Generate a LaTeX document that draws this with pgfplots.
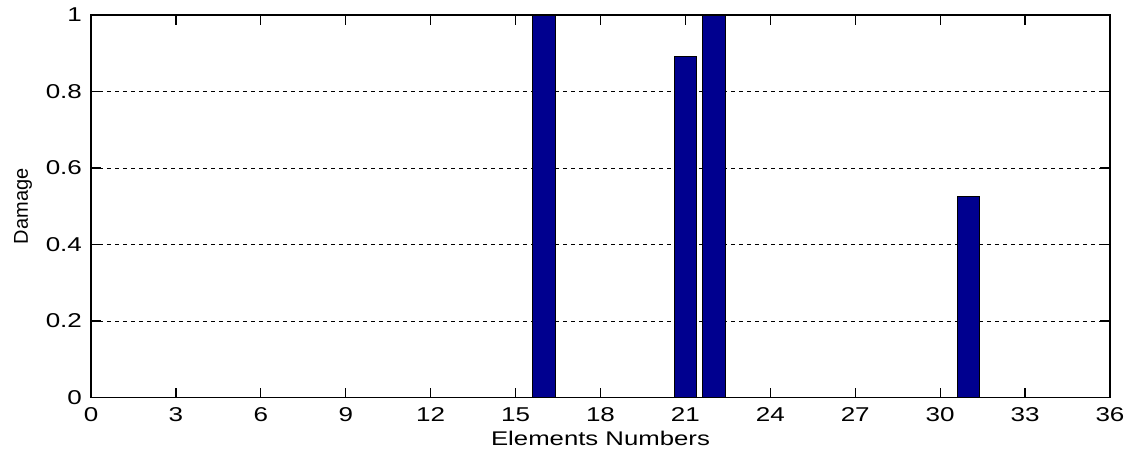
\documentclass[border=0pt]{standalone}
\usepackage{pgfplots}
\pgfplotsset{compat=1.18}
\usepackage{fontspec}
\setmainfont[FakeStretch=1.3]{Liberation Sans}
\newfontfamily\ylabfont{Liberation Sans}
\definecolor{mbar}{rgb}{0,0,0.5625}
\begin{document}
\fontsize{10}{12}\selectfont
\begin{tikzpicture}
\begin{axis}[
  scale only axis,
  width=509.5pt, height=191.3pt,
  xmin=0, xmax=36, ymin=0, ymax=1,
  xtick={0,3,...,36},
  ytick={0,0.2,0.4,0.6,0.8,1},
  yticklabels={0,0.2,0.4,0.6,0.8,1},
  tick align=inside,
  major tick length=5pt,
  xtick pos=both, ytick pos=both,
  ymajorgrids,
  major grid style={black, dash pattern=on 2pt off 2pt, line width=0.5pt},
  axis line style={black, line width=0.6pt},
  tick style={black, line width=0.6pt},
  /pgf/number format/assume math mode=true,
  ticklabel style={font=\fontsize{10}{12}\selectfont},
  xticklabel style={yshift=-1.5pt},
  yticklabel style={xshift=-1pt},
  xlabel={Elements Numbers},
  xlabel style={font=\fontsize{9.9}{12}\selectfont, at={(axis description cs:0.5,0)}, anchor=base, yshift=-24pt},
  ylabel={Damage},
  ylabel style={font=\ylabfont\fontsize{10}{12}\selectfont, at={(axis description cs:-0.0667,0.5)}, anchor=center},
]
\addplot[ybar, bar width=0.8, fill=mbar, draw=black, line width=0.5pt] coordinates {
  (16,1) (21,0.892) (22,1) (31,0.525)
};
\end{axis}
\pgfresetboundingbox
\path ([shift={(-45.5pt,-29.65pt)}]current axis.south west) rectangle ([shift={(10pt,7.5pt)}]current axis.north east);
\end{tikzpicture}
\end{document}
